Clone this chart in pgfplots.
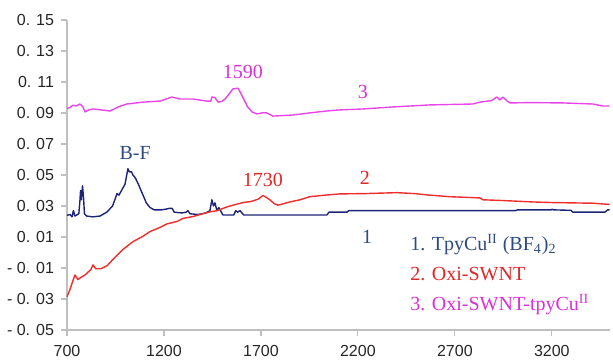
\documentclass[border=0pt]{standalone}
\usepackage{fontspec}
\setmainfont{Liberation Serif}
\newfontfamily\sansf{Liberation Sans}
\usepackage{pgfplots}
\pgfplotsset{compat=1.18}
\definecolor{navy}{RGB}{28,36,120}
\definecolor{navytxt}{RGB}{45,75,130}
\definecolor{redl}{RGB}{240,45,45}
\definecolor{redt}{RGB}{222,40,40}
\definecolor{magl}{RGB}{232,70,232}
\definecolor{magt}{RGB}{215,50,215}
\begin{document}
\begin{tikzpicture}
\begin{axis}[
  scale only axis, width=271.5pt, height=155pt,
  xmin=700, xmax=3500, ymin=-0.05, ymax=0.15,
  axis lines*=left,
  axis line style={draw=black!25, line width=0.6pt},
  tick align=outside, major tick length=3pt,
  tick style={draw=black!25, line width=0.6pt},
  xtick={700,1200,1700,2200,2700,3200},
  xticklabels={700,1200,1700,2200,2700,3200},
  ytick={-0.05,-0.03,-0.01,0.01,0.03,0.05,0.07,0.09,0.11,0.13,0.15},
  yticklabels={- 0. 05,- 0. 03,- 0. 01,0. 01,0. 03,0. 05,0. 07,0. 09,0. 11,0. 13,0. 15},
  ticklabel style={font=\sansf\fontsize{8}{9}\selectfont, text=black!85},
  xticklabel style={yshift=-1pt},
  clip=false,
  every axis plot/.append style={line width=0.7pt, line join=round},
]
\addplot[navy] coordinates {(700,0.024)(715,0.0245)(726,0.023)(733,0.027)(741,0.0235)(761,0.025)(767,0.034)(770,0.040)(774,0.034)(780,0.043)(785,0.036)(790,0.025)(802,0.0235)(833,0.023)(870,0.0235)(905,0.026)(935,0.030)(958,0.038)(968,0.037)(981,0.040)(999,0.044)(1014,0.054)(1022,0.052)(1033,0.052)(1040,0.050)(1053,0.048)(1068,0.044)(1092,0.037)(1109,0.032)(1128,0.029)(1150,0.0275)(1186,0.0275)(1212,0.028)(1227,0.0285)(1242,0.0285)(1253,0.026)(1293,0.0255)(1314,0.026)(1324,0.027)(1334,0.025)(1375,0.0245)(1416,0.0255)(1437,0.027)(1447,0.034)(1455,0.030)(1463,0.032)(1473,0.027)(1483,0.029)(1504,0.0242)(1560,0.0242)(1570,0.027)(1580,0.026)(1592,0.027)(1611,0.0242)(2040,0.0242)(2051,0.026)(2143,0.026)(2153,0.027)(3012,0.027)(3023,0.0275)(3197,0.0275)(3202,0.028)(3207,0.0275)(3299,0.0272)(3309,0.026)(3473,0.026)(3488,0.0275)(3498,0.0275)};
\addplot[redl] coordinates {(700,-0.0285)(715,-0.024)(731,-0.018)(741,-0.0145)(756,-0.0175)(772,-0.016)(793,-0.0145)(823,-0.011)(834,-0.008)(848,-0.0105)(874,-0.0105)(907,-0.0085)(948,-0.003)(989,0.002)(1040,0.007)(1092,0.0105)(1128,0.0135)(1180,0.0162)(1216,0.0185)(1267,0.020)(1298,0.022)(1350,0.0232)(1386,0.0245)(1437,0.0262)(1474,0.027)(1525,0.0294)(1555,0.0305)(1608,0.0322)(1652,0.033)(1687,0.0345)(1710,0.0368)(1728,0.0355)(1746,0.034)(1769,0.0315)(1788,0.0305)(1849,0.0326)(1901,0.034)(1952,0.036)(2030,0.037)(2107,0.0378)(2235,0.038)(2401,0.0386)(2491,0.038)(2571,0.037)(2674,0.036)(2829,0.0352)(2845,0.034)(2951,0.0335)(3102,0.0326)(3207,0.0322)(3308,0.032)(3411,0.0318)(3498,0.031)};
\addplot[magl] coordinates {(700,0.093)(715,0.0935)(731,0.095)(746,0.0945)(767,0.0958)(782,0.094)(793,0.0907)(813,0.092)(834,0.0926)(874,0.092)(922,0.0913)(966,0.094)(1009,0.0958)(1092,0.097)(1180,0.0977)(1241,0.1003)(1282,0.099)(1350,0.099)(1421,0.0977)(1442,0.0977)(1447,0.1003)(1463,0.1)(1479,0.097)(1498,0.0975)(1515,0.099)(1534,0.102)(1555,0.1055)(1582,0.106)(1595,0.103)(1608,0.0997)(1631,0.094)(1654,0.0907)(1679,0.0894)(1713,0.0902)(1731,0.090)(1762,0.088)(1865,0.0887)(1948,0.09)(2040,0.0913)(2107,0.092)(2226,0.0926)(2380,0.0939)(2571,0.0952)(2792,0.0958)(2829,0.097)(2890,0.098)(2916,0.1003)(2932,0.0984)(2947,0.1003)(2967,0.098)(2984,0.0965)(3086,0.0967)(3257,0.0965)(3411,0.0958)(3463,0.0945)(3498,0.0945)};
\begingroup\fontsize{10.5}{12}\selectfont
\node[text=magt] at (axis cs:1607,0.1165) {1590};
\node[text=magt] at (axis cs:2226,0.1035) {3};
\node[text=navytxt] at (axis cs:1051,0.0642) {B-F};
\node[text=redt] at (axis cs:1710,0.0468) {1730};
\node[text=redt] at (axis cs:2236,0.048) {2};
\node[text=navytxt] at (axis cs:2247,0.010) {1};
\node[text=navytxt, anchor=west, inner sep=0pt] at (axis cs:2468,0.0049) {1. TpyCu\textsuperscript{II} (BF\textsubscript{4})\textsubscript{2}};
\node[text=redt, anchor=west, inner sep=0pt] at (axis cs:2468,-0.0138) {2. Oxi-SWNT};
\node[text=magt, anchor=west, inner sep=0pt] at (axis cs:2468,-0.0338) {3. Oxi-SWNT-tpyCu\textsuperscript{II}};
\endgroup
\end{axis}
\pgfresetboundingbox
\path ([shift={(-33.5pt,-16pt)}]current axis.south west) rectangle ([shift={(1.5pt,10pt)}]current axis.north east);
\end{tikzpicture}
\end{document}
